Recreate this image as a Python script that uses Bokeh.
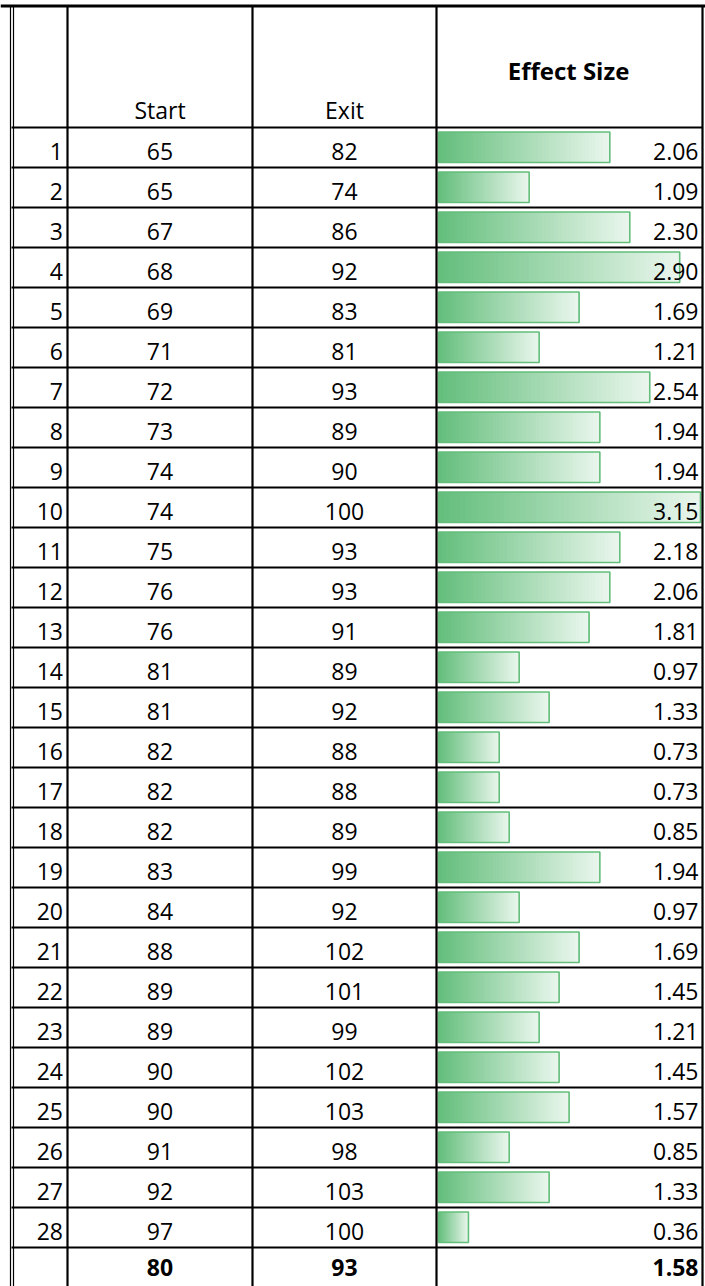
from bokeh.plotting import figure
from bokeh.models import Range1d, ColumnDataSource
from bokeh.embed import file_html
from bokeh.resources import INLINE
from bokeh.core.properties import value

# ---- data ----
row_ids = list(range(1, 29))
start_vals = [65, 65, 67, 68, 69, 71, 72, 73, 74, 74, 75, 76, 76, 81, 81, 82, 82, 82, 83, 84, 88, 89, 89, 90, 90, 91, 92, 97]
exit_vals = [82, 74, 86, 92, 83, 81, 93, 89, 90, 100, 93, 93, 91, 89, 92, 88, 88, 89, 99, 92, 102, 101, 99, 102, 103, 98, 103, 100]
effect_vals = [2.06, 1.09, 2.30, 2.90, 1.69, 1.21, 2.54, 1.94, 1.94, 3.15, 2.18, 2.06, 1.81, 0.97, 1.33, 0.73, 0.73, 0.85, 1.94, 0.97,
               1.69, 1.45, 1.21, 1.45, 1.57, 0.85, 1.33, 0.36]
header_labels = ["Start", "Exit", "Effect Size"]
total_labels = ["80", "93", "1.58"]

# ---- layout (pixels / rows) ----
W, H = 705, 1286
ROW_PX = 40.0
ROW0_PX = 87.0          # pixel y of u = 0
col_edges = [67, 252, 436, 702]
left_edge = 11
bar_x0 = 438.0
bar_full = 262.0
FONT = value("Open Sans")

n = len(row_ids)
vmax = max(effect_vals)

p = figure(width=W, height=H, output_backend="svg", toolbar_location=None,
           x_range=Range1d(0, W),
           y_range=Range1d((H - ROW0_PX) / ROW_PX, -ROW0_PX / ROW_PX),
           min_border=0, min_border_left=0, min_border_right=0,
           min_border_top=0, min_border_bottom=0)
p.axis.visible = False
p.grid.visible = False
p.outline_line_color = None
p.background_fill_color = "white"
p.border_fill_color = "white"

# separate range for the data bars: 0 -> bar_x0 px, vmax -> bar_x0+bar_full px
scale = bar_full / vmax
p.extra_x_ranges = {"es": Range1d(-bar_x0 / scale, (W - bar_x0) / scale)}

# ---- gradient data bars ----
N = 48
c0 = (99, 190, 123)
c1 = (234, 246, 237)
L, R, T, B, C = [], [], [], [], []
for i, v in enumerate(effect_vals):
    r = row_ids[i]
    for j in range(N):
        t = (j + 0.5) / N
        col = tuple(int(round(c0[k] + (c1[k] - c0[k]) * t)) for k in range(3))
        L.append(v * j / N)
        R.append(v)
        T.append(r + 4.5 / ROW_PX)
        B.append(r + 1 - 5.0 / ROW_PX)
        C.append("#%02x%02x%02x" % col)
p.quad(left=L, right=R, top=T, bottom=B, fill_color=C, line_color=None,
       x_range_name="es")
p.quad(left=[0] * n, right=effect_vals,
       top=[r + 4.5 / ROW_PX for r in row_ids],
       bottom=[r + 1 - 5.0 / ROW_PX for r in row_ids],
       fill_alpha=0, line_color="#63BE7B", line_width=1.6, x_range_name="es")

# ---- grid lines ----
hy = list(range(1, n + 2))
p.segment(x0=[left_edge] * len(hy), x1=[col_edges[-1]] * len(hy), y0=hy, y1=hy,
          line_color="black", line_width=2.2)
top_u = (5.5 - ROW0_PX) / ROW_PX
p.segment(x0=[0], x1=[W], y0=[top_u], y1=[top_u], line_color="black", line_width=3.2)
ytop = (6.5 - ROW0_PX) / ROW_PX
ybot = (H - ROW0_PX) / ROW_PX
p.segment(x0=col_edges, x1=col_edges, y0=[ytop] * 4, y1=[ybot] * 4,
          line_color="black", line_width=2.2)
p.segment(x0=[10, 13], x1=[10, 13], y0=[ytop] * 2, y1=[ybot] * 2,
          line_color="black", line_width=1.2)

# ---- texts (vertically centred on the digit band) ----
mid = [r + 23.5 / ROW_PX for r in row_ids]
src = ColumnDataSource(dict(
    y=mid,
    idx=[str(r) for r in row_ids],
    s=[str(v) for v in start_vals],
    e=[str(v) for v in exit_vals],
    es=["%.2f" % v for v in effect_vals],
))
common = dict(text_font=FONT, text_font_size=value("23px"), text_color="black",
              text_baseline="middle")
p.text(x=62.5, y="y", text="idx", source=src, text_align="right", **common)
p.text(x=159.5, y="y", text="s", source=src, text_align="center", **common)
p.text(x=344, y="y", text="e", source=src, text_align="center", **common)
p.text(x=698, y="y", text="es", source=src, text_align="right", **common)

# header
hm = (109.5 - ROW0_PX) / ROW_PX
p.text(x=[159.5, 344], y=[hm, hm], text=header_labels[:2], text_align="center", **common)
p.text(x=[568], y=[(70 - ROW0_PX) / ROW_PX], text=[header_labels[2]], text_align="center",
       text_font=FONT, text_font_size=value("24px"), text_font_style="bold",
       text_color="black", text_baseline="middle")

# totals
tm = n + 1 + 19.5 / ROW_PX
bold = dict(text_font=FONT, text_font_size=value("23px"), text_font_style="bold",
            text_color="black", text_baseline="middle")
p.text(x=[159.5, 344], y=[tm, tm], text=total_labels[:2], text_align="center", **bold)
p.text(x=[698], y=[tm], text=[total_labels[2]], text_align="right", **bold)

open("out.html", "w").write(file_html(p, INLINE))
